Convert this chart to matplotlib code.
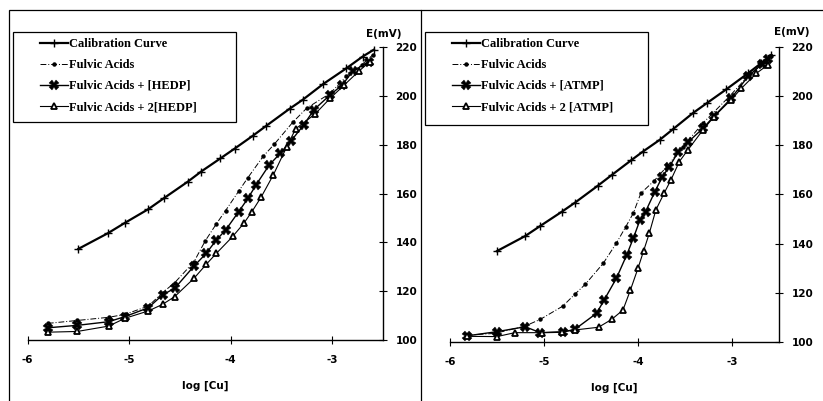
import matplotlib
matplotlib.use("Agg")
import matplotlib.pyplot as plt
from matplotlib.patches import Rectangle
from matplotlib.lines import Line2D

# ---- data (log [Cu], E in mV) ----
# left panel: HEDP
cal_l_x = [-5.50, -5.21, -5.04, -4.81, -4.66, -4.42, -4.29, -4.10, -3.96, -3.78, -3.65,
           -3.42, -3.29, -3.09, -2.86, -2.70, -2.59]
cal_l_y = [137.3, 143.7, 148.0, 153.6, 158.0, 164.9, 169.0, 174.4, 178.4, 183.7, 187.7,
           194.7, 198.4, 204.8, 211.3, 216.1, 218.9]

fa_l_x = [-5.80, -5.51, -5.20, -5.04, -4.81, -4.67, -4.55, -4.36, -4.25, -4.14, -4.05,
          -3.92, -3.83, -3.68, -3.57, -3.39, -3.25, -3.02, -2.86, -2.71, -2.60]
fa_l_y = [106.8, 108.0, 109.3, 110.5, 113.9, 119.4, 123.5, 132.1, 140.6, 147.6, 153.0,
          161.0, 166.5, 175.2, 180.2, 189.1, 195.0, 201.0, 208.0, 212.7, 216.8]

hedp_x = [-5.80, -5.51, -5.20, -5.04, -4.81, -4.67, -4.55, -4.36, -4.24, -4.14, -4.05,
          -3.92, -3.83, -3.75, -3.62, -3.51, -3.41, -3.28, -3.18, -3.02, -2.90, -2.80, -2.64]
hedp_y = [105.0, 106.0, 107.5, 109.6, 113.2, 118.5, 121.2, 130.3, 135.5, 141.0, 145.0,
          152.6, 158.0, 163.5, 171.7, 176.5, 181.3, 188.1, 194.3, 200.4, 204.5, 210.0, 214.0]

hedp2_x = [-5.80, -5.51, -5.20, -5.04, -4.81, -4.67, -4.55, -4.36, -4.24, -4.14, -3.98,
           -3.87, -3.79, -3.70, -3.58, -3.45, -3.36, -3.17, -3.02, -2.88, -2.74, -2.63]
hedp2_y = [103.2, 103.5, 105.7, 108.9, 111.9, 114.6, 117.8, 125.3, 131.0, 135.5, 142.4,
           147.8, 152.6, 158.5, 167.6, 178.9, 186.5, 192.5, 199.0, 204.5, 210.0, 214.0]

# right panel: ATMP
cal_r_x = [-5.50, -5.20, -5.04, -4.81, -4.67, -4.43, -4.28, -4.07, -3.95, -3.77, -3.63,
           -3.42, -3.27, -3.06, -2.83, -2.69, -2.58]
cal_r_y = [137.0, 143.1, 147.2, 153.0, 156.7, 163.5, 167.9, 174.0, 177.4, 182.2, 186.5,
           193.0, 197.1, 202.8, 209.3, 213.4, 216.8]

fa_r_x = [-5.82, -5.52, -5.20, -5.04, -4.80, -4.67, -4.56, -4.37, -4.23, -4.13, -4.05,
          -3.97, -3.83, -3.69, -3.52, -3.31, -3.03, -2.82, -2.64, -2.58]
fa_r_y = [102.8, 103.5, 106.5, 109.2, 114.6, 119.5, 123.5, 132.0, 140.2, 146.9, 152.4,
          160.5, 165.5, 171.5, 179.5, 189.0, 199.8, 208.6, 214.0, 216.5]

atmp_x = [-5.82, -5.50, -5.20, -5.04, -4.80, -4.67, -4.44, -4.36, -4.23, -4.12, -4.05,
          -3.98, -3.92, -3.82, -3.74, -3.67, -3.57, -3.47, -3.31, -3.19, -3.01, -2.83, -2.68, -2.62]
atmp_y = [102.5, 104.2, 106.2, 103.8, 104.0, 105.2, 111.7, 117.1, 125.9, 135.4, 142.2,
          149.5, 153.0, 161.2, 167.3, 171.1, 177.4, 181.2, 186.9, 191.9, 199.1, 208.0, 213.1, 215.0]

atmp2_x = [-5.82, -5.50, -5.31, -5.02, -4.81, -4.67, -4.42, -4.28, -4.16, -4.08, -4.00,
           -3.94, -3.88, -3.81, -3.72, -3.65, -3.56, -3.47, -3.31, -3.19, -3.01, -2.90, -2.74, -2.62]
atmp2_y = [102.3, 102.2, 103.8, 103.8, 104.2, 104.9, 106.0, 109.2, 113.0, 121.2, 130.0,
           137.1, 144.2, 153.7, 160.7, 165.9, 173.4, 178.1, 186.2, 191.7, 198.5, 203.2, 209.3, 212.7]

xticks = [-6, -5, -4, -3]
yticks = [100, 120, 140, 160, 180, 200, 220]

W, H = 823, 401
fig = plt.figure(figsize=(W / 100, H / 100), dpi=100)
fig.patch.set_facecolor("white")

tick_font = dict(family="DejaVu Sans", weight="bold", size=7.5)
leg_font = dict(family="Liberation Serif", weight="bold", size=9)


def fx(px):
    return px / W


def fy(py):
    return 1 - py / H


def draw_panel(ax, series, labels):
    cal, fa, s1, s2 = series
    ax.plot(cal[0], cal[1], color="black", lw=1.6, marker="+", ms=6, mew=1.0, label=labels[0])
    ax.plot(fa[0], fa[1], color="black", lw=0.7, ls=(0, (6, 2, 1, 2)), marker="o", ms=2.2,
            label=labels[1])
    ax.plot(s1[0], s1[1], color="black", lw=1.0, marker="X", ms=6.5, mew=0.3, label=labels[2])
    ax.plot(s2[0], s2[1], color="black", lw=0.8, marker="^", ms=5, mfc="white", mec="black",
            mew=1.3, label=labels[3])

    ax.set_xlim(-6, -2.5)
    ax.set_ylim(100, 220)
    ax.spines["left"].set_visible(False)
    ax.spines["top"].set_visible(False)
    ax.spines["right"].set_linewidth(1.0)
    ax.spines["bottom"].set_linewidth(1.0)
    ax.yaxis.tick_right()
    ax.set_xticks(xticks)
    ax.set_yticks(yticks)
    ax.set_xticklabels([str(t) for t in xticks], fontdict=tick_font)
    ax.set_yticklabels([str(t) for t in yticks], fontdict=tick_font)
    ax.tick_params(axis="both", direction="inout", length=6, width=0.8, pad=6)
    ax.tick_params(axis="x", pad=8)
    ax.set_xlabel("log [Cu]", fontdict=tick_font, labelpad=11)
    ax.set_facecolor("none")
    for l in ax.get_lines():
        l.set_clip_on(False)


# left panel
ax1 = fig.add_axes([fx(27.5), fy(340), fx(383 - 27.5), (340 - 47) / H])
draw_panel(ax1, [(cal_l_x, cal_l_y), (fa_l_x, fa_l_y), (hedp_x, hedp_y), (hedp2_x, hedp2_y)],
           ["Calibration Curve", "Fulvic Acids", "Fulvic Acids + [HEDP]",
            "Fulvic Acids + 2[HEDP]"])

# right panel
ax2 = fig.add_axes([fx(450), fy(342), fx(779 - 450), (342 - 47) / H])
draw_panel(ax2, [(cal_r_x, cal_r_y), (fa_r_x, fa_r_y), (atmp_x, atmp_y), (atmp2_x, atmp2_y)],
           ["Calibration Curve", "Fulvic Acids", "Fulvic Acids + [ATMP]",
            "Fulvic Acids + 2 [ATMP]"])

# E(mV) labels above the right spine
fig.text(fx(384), fy(34), "E(mV)", ha="center", va="center", **tick_font)
fig.text(fx(792), fy(32), "E(mV)", ha="center", va="center", **tick_font)

# legends without frame, frames drawn as rectangles
for ax, x0, box in [(ax1, 40, (13, 32, 236, 122)), (ax2, 452, (425, 32, 648, 125))]:
    leg = ax.legend(loc="upper left", bbox_to_anchor=(fx(x0), fy(38)),
                    bbox_transform=fig.transFigure, frameon=False, prop=leg_font,
                    borderpad=0, borderaxespad=0, handlelength=2.2, handletextpad=0.15,
                    labelspacing=0.72)
    fig.patches.append(Rectangle((fx(box[0]), fy(box[3])), fx(box[2] - box[0]),
                                 (box[3] - box[1]) / H, transform=fig.transFigure,
                                 fill=False, ec="black", lw=0.9))

# panel borders
fig.patches.append(Rectangle((fx(9), -0.01), fx(421 - 9), fy(9.5) + 0.01,
                             transform=fig.transFigure, fill=False, ec="black", lw=0.9))
fig.lines.append(Line2D([fx(421), 1.0], [fy(9.5), fy(9.5)], transform=fig.transFigure,
                        color="black", lw=0.9))

fig.savefig("out.png", dpi=100)
